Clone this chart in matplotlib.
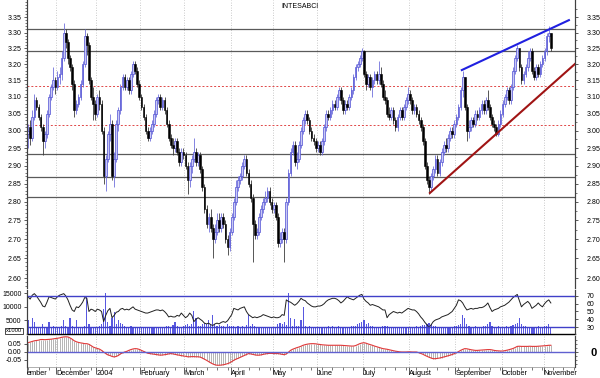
import matplotlib
matplotlib.use("Agg")
import matplotlib.pyplot as plt
import matplotlib.ticker as mticker
import numpy as np

plt.rcParams["font.family"] = ["Liberation Sans", "DejaVu Sans"]

# daily prices in thousandths of a euro, mid Nov 2003 -> early Nov 2004
opens = [
    2990, 3010, 2980, 3040, 3090, 3070, 3040, 3010, 2970, 2990,
    3050, 3100, 3130, 3150, 3130, 3160, 3170, 3220, 3300, 3270,
    3220, 3190, 3140, 3060, 3080, 3100, 3140, 3200, 3290, 3260,
    3150, 3100, 3080, 3050, 3100, 3080, 3000, 2870, 2920, 2990,
    3020, 2870, 2920, 3020, 3060, 3130, 3160, 3130, 3150, 3120,
    3170, 3200, 3180, 3140, 3100, 3070, 3040, 3000, 2980, 3000,
    3020, 3050, 3090, 3100, 3070, 3090, 3060, 3020, 2980, 2960,
    2950, 2970, 2940, 2910, 2940, 2930, 2900, 2860, 2900, 2920,
    2940, 2910, 2930, 2890, 2840, 2780, 2740, 2760, 2730, 2700,
    2720, 2750, 2730, 2760, 2740, 2700, 2680, 2720, 2760, 2800,
    2840, 2860, 2870, 2900, 2920, 2880, 2850, 2810, 2740, 2710,
    2720, 2760, 2780, 2800, 2810, 2830, 2800, 2780, 2790, 2760,
    2690, 2700, 2720, 2700, 2800, 2880, 2940, 2960, 2910, 2920,
    2960, 3000, 3030, 3050, 3030, 3000, 2980, 2970, 2950, 2960,
    2940, 2970, 3010, 3050, 3040, 3060, 3080, 3070, 3100, 3120,
    3090, 3060, 3080, 3070, 3100, 3120, 3160, 3190, 3200, 3220,
    3240, 3170, 3140, 3160, 3130, 3150, 3170, 3150, 3170, 3140,
    3100, 3090, 3050, 3040, 3060, 3030, 3010, 3040, 3060, 3040,
    3070, 3090, 3110, 3090, 3060, 3070, 3050, 3030, 3010, 2970,
    2900, 2860, 2840, 2870, 2890, 2920, 2880, 2910, 2940, 2960,
    2950, 2980, 3000, 2990, 3020, 3040, 3070, 3120, 3160, 3070,
    3000, 3010, 3030, 3020, 3050, 3040, 3060, 3080, 3060, 3090,
    3070, 3040, 3020, 3010, 2990, 3020, 3050, 3080, 3100, 3120,
    3090, 3130, 3180, 3220, 3250, 3190, 3150, 3170, 3190, 3220,
    3240, 3180, 3160, 3190, 3170, 3200, 3220, 3240, 3290, 3300,
]
highs = [
    3020, 3030, 3060, 3110, 3100, 3080, 3050, 3020, 3000, 3060,
    3110, 3140, 3190, 3160, 3180, 3190, 3240, 3330, 3310, 3280,
    3230, 3200, 3150, 3090, 3110, 3150, 3210, 3310, 3300, 3270,
    3160, 3130, 3090, 3110, 3120, 3090, 3010, 2930, 3000, 3050,
    3030, 2940, 3030, 3070, 3140, 3170, 3170, 3160, 3160, 3180,
    3210, 3210, 3190, 3150, 3110, 3080, 3050, 3010, 3010, 3030,
    3060, 3100, 3110, 3110, 3100, 3100, 3070, 3030, 2990, 2980,
    2980, 2980, 2950, 2950, 2950, 2940, 2910, 2910, 2930, 2980,
    2950, 2940, 2940, 2900, 2850, 2790, 2770, 2780, 2740, 2740,
    2770, 2770, 2770, 2770, 2750, 2710, 2730, 2770, 2810, 2860,
    2870, 2880, 2910, 2930, 2930, 2890, 2860, 2820, 2750, 2730,
    2770, 2790, 2810, 2830, 2840, 2840, 2810, 2800, 2800, 2770,
    2720, 2730, 2730, 2810, 2890, 2950, 2970, 2970, 2940, 2970,
    3010, 3040, 3060, 3060, 3040, 3010, 2990, 2980, 2970, 2970,
    2980, 3020, 3060, 3060, 3070, 3090, 3090, 3110, 3130, 3130,
    3100, 3090, 3090, 3110, 3130, 3170, 3200, 3210, 3230, 3250,
    3245, 3180, 3170, 3170, 3160, 3180, 3180, 3210, 3190, 3150,
    3120, 3100, 3070, 3070, 3070, 3040, 3050, 3070, 3070, 3080,
    3100, 3130, 3120, 3100, 3080, 3080, 3060, 3040, 3020, 2980,
    2910, 2870, 2880, 2900, 2930, 2930, 2920, 2950, 2970, 2980,
    2990, 3010, 3010, 3030, 3050, 3080, 3130, 3180, 3160, 3080,
    3030, 3040, 3040, 3060, 3060, 3070, 3090, 3090, 3100, 3120,
    3080, 3050, 3030, 3020, 3030, 3060, 3090, 3110, 3130, 3130,
    3140, 3190, 3230, 3260, 3250, 3200, 3180, 3200, 3240, 3250,
    3250, 3190, 3200, 3200, 3210, 3230, 3250, 3300, 3320, 3300,
]
lows = [
    2950, 2960, 2970, 3030, 3060, 3030, 3000, 2930, 2950, 2980,
    3040, 3090, 3120, 3110, 3120, 3140, 3150, 3210, 3250, 3200,
    3180, 3120, 3040, 3050, 3070, 3090, 3130, 3190, 3230, 3140,
    3090, 3030, 3030, 3040, 3060, 2990, 2850, 2830, 2910, 2970,
    2860, 2840, 2910, 3000, 3050, 3120, 3120, 3120, 3110, 3110,
    3160, 3170, 3130, 3090, 3060, 3030, 2990, 2970, 2970, 2990,
    3010, 3040, 3080, 3060, 3060, 3050, 3010, 2970, 2950, 2930,
    2940, 2930, 2900, 2900, 2920, 2890, 2820, 2840, 2880, 2910,
    2900, 2900, 2880, 2830, 2770, 2730, 2720, 2720, 2650, 2690,
    2710, 2720, 2720, 2730, 2690, 2660, 2670, 2710, 2750, 2790,
    2830, 2850, 2860, 2890, 2870, 2840, 2800, 2640, 2700, 2700,
    2710, 2750, 2770, 2790, 2800, 2790, 2770, 2770, 2750, 2680,
    2680, 2690, 2640, 2690, 2790, 2870, 2930, 2900, 2890, 2910,
    2950, 2990, 3020, 3020, 2990, 2970, 2960, 2940, 2940, 2930,
    2930, 2960, 3000, 3030, 3030, 3050, 3060, 3060, 3090, 3080,
    3050, 3050, 3060, 3060, 3090, 3110, 3150, 3180, 3190, 3210,
    3160, 3120, 3130, 3120, 3100, 3140, 3140, 3140, 3130, 3090,
    3080, 3040, 3030, 3030, 3020, 3000, 3000, 3030, 3030, 3030,
    3060, 3080, 3080, 3050, 3050, 3040, 3020, 3000, 2960, 2890,
    2850, 2820, 2830, 2860, 2880, 2870, 2870, 2900, 2930, 2940,
    2940, 2970, 2980, 2980, 3010, 3030, 3060, 3100, 3060, 2970,
    2980, 3000, 3010, 3010, 3030, 3030, 3050, 3050, 3050, 3060,
    3030, 3010, 3000, 2985, 2985, 3010, 3040, 3070, 3090, 3080,
    3080, 3120, 3170, 3210, 3180, 3140, 3140, 3160, 3180, 3210,
    3170, 3150, 3150, 3160, 3160, 3190, 3210, 3230, 3270, 3240,
]
closes = [
    3000, 2980, 3040, 3090, 3070, 3040, 3010, 2970, 2990, 3050,
    3100, 3130, 3150, 3130, 3160, 3170, 3220, 3300, 3270, 3220,
    3190, 3140, 3060, 3080, 3100, 3140, 3200, 3290, 3260, 3150,
    3100, 3080, 3050, 3100, 3080, 3000, 2870, 2920, 2990, 3020,
    2870, 2920, 3020, 3060, 3130, 3160, 3130, 3150, 3120, 3170,
    3200, 3180, 3140, 3100, 3070, 3040, 3000, 2980, 3000, 3020,
    3050, 3090, 3100, 3070, 3090, 3060, 3020, 2980, 2960, 2950,
    2970, 2940, 2910, 2940, 2930, 2900, 2860, 2900, 2920, 2940,
    2910, 2930, 2890, 2840, 2780, 2740, 2760, 2730, 2700, 2720,
    2750, 2730, 2760, 2740, 2700, 2680, 2720, 2760, 2800, 2840,
    2860, 2870, 2900, 2920, 2880, 2850, 2810, 2740, 2710, 2720,
    2760, 2780, 2800, 2810, 2830, 2800, 2780, 2790, 2760, 2690,
    2700, 2720, 2700, 2800, 2880, 2940, 2960, 2910, 2920, 2960,
    3000, 3030, 3050, 3030, 3000, 2980, 2970, 2950, 2960, 2940,
    2970, 3010, 3050, 3040, 3060, 3080, 3070, 3100, 3120, 3090,
    3060, 3080, 3070, 3100, 3120, 3160, 3190, 3200, 3220, 3240,
    3170, 3140, 3160, 3130, 3150, 3170, 3150, 3170, 3140, 3100,
    3090, 3050, 3040, 3060, 3030, 3010, 3040, 3060, 3040, 3070,
    3090, 3110, 3090, 3060, 3070, 3050, 3030, 3010, 2970, 2900,
    2860, 2840, 2870, 2890, 2920, 2880, 2910, 2940, 2960, 2950,
    2980, 3000, 2990, 3020, 3040, 3070, 3120, 3160, 3070, 3000,
    3010, 3030, 3020, 3050, 3040, 3060, 3080, 3060, 3090, 3070,
    3040, 3020, 3010, 2990, 3020, 3050, 3080, 3100, 3120, 3090,
    3130, 3180, 3220, 3250, 3190, 3150, 3170, 3190, 3220, 3240,
    3180, 3160, 3190, 3170, 3200, 3220, 3240, 3290, 3300, 3250,
]
volumes = [
    5000, 2400, 6000, 4500, 2600, 2200, 2500, 3500, 2300, 2600,
    4500, 2400, 2800, 2200, 2600, 2400, 3000, 5000, 2800, 2500,
    6000, 2800, 2500, 5000, 2300, 2400, 2600, 3000, 14000, 3500,
    2500, 2700, 2400, 2600, 2900, 3500, 9000, 15000, 4500, 3000,
    6000, 8000, 3500, 5000, 4000, 3500, 3000, 2600, 2400, 2800,
    2600, 2500, 2300, 2700, 2400, 2600, 2500, 2300, 2600, 2400,
    2500, 2700, 2300, 2400, 2600, 2500, 2800, 3000, 2600, 3200,
    4500, 3000, 2700, 2600, 3000, 3200, 3800, 2900, 3500, 8400,
    6000, 3000, 2800, 3500, 4000, 3600, 5000, 3200, 7000, 3500,
    3000, 3400, 2800, 3100, 2700, 3500, 3000, 3000, 2800, 2600,
    2800, 2600, 3000, 2700, 3200, 7000, 3000, 3500, 2800, 2600,
    2500, 2400, 2700, 2600, 2400, 2500, 2600, 2300, 2700, 3500,
    4000, 3500, 4500, 3200, 15000, 6000, 3000, 5500, 3000, 2800,
    5000, 10000, 3000, 2600, 2800, 2500, 2700, 2400, 2600, 2500,
    2400, 2700, 2500, 2800, 2600, 3000, 2700, 2500, 2800, 2600,
    2500, 2700, 2400, 2600, 2800, 3000, 2800, 3500, 4000, 4500,
    5000, 3500, 4000, 3000, 2800, 2600, 2500, 2700, 2600, 3000,
    2800, 3000, 2700, 2500, 2600, 2400, 2700, 2500, 2600, 2400,
    2600, 2500, 2700, 2400, 2600, 2800, 2700, 3000, 3200, 3400,
    3500, 4000, 3500, 3000, 2800, 2600, 2700, 2500, 2600, 2400,
    2500, 2700, 2600, 2800, 3000, 3200, 3500, 7000, 6000, 3500,
    3000, 2700, 2500, 2800, 2600, 2700, 2500, 2800, 3000, 3500,
    4500, 3000, 2700, 2600, 2800, 2500, 2700, 2600, 2800, 2700,
    3000, 3200, 3500, 4000, 5800, 3500, 3000, 2800, 2600, 2700,
    2500, 2700, 2600, 2800, 2500, 2700, 2900, 3000, 3500, 2600,
]
rsi = [
    69, 66, 71, 73, 70, 66, 62, 57, 56, 62,
    69, 68, 67, 66, 69, 71, 72, 73, 70, 65,
    58, 52, 50, 56, 55, 58, 62, 68, 67, 50,
    53, 52, 50, 53, 52, 50, 37, 45, 51, 54,
    42, 45, 49, 50, 53, 54, 52, 53, 52, 54,
    56, 53, 52, 51, 50, 49, 48, 48, 49, 50,
    51, 52, 52, 51, 52, 50, 47, 43, 44, 43,
    43, 45, 44, 48, 45, 42, 44, 48, 45, 37,
    40, 42, 40, 38, 35, 34, 35, 33, 32, 34,
    35, 34, 36, 37, 36, 38, 42, 46, 54, 53,
    52, 54, 55, 56, 50, 46, 44, 42, 43, 42,
    43, 44, 46, 45, 44, 43, 42, 43, 42, 42,
    43, 46, 45, 65, 63, 62, 60, 58, 60, 63,
    67, 65, 64, 61, 59, 57, 56, 56, 57, 57,
    58, 60, 63, 65, 66, 67, 67, 66, 64, 61,
    63, 66, 69, 67, 66, 65, 67, 69, 71, 72,
    66, 63, 61, 58, 59, 58, 57, 56, 54, 52,
    52, 42, 46, 48, 50, 49, 48, 49, 48, 50,
    52, 54, 53, 52, 52, 50, 47, 43, 40, 36,
    33, 29, 33, 37, 39, 40, 41, 43, 44, 45,
    46, 48, 50, 54, 58, 65, 64, 61, 56, 52,
    53, 54, 53, 54, 54, 55, 55, 56, 58, 61,
    55, 50, 52, 53, 54, 56, 57, 58, 60, 62,
    65, 68, 70, 72, 64, 56, 59, 61, 63, 60,
    54, 56, 58, 61, 58, 56, 60, 63, 65, 61,
]
# MACD in thousandths
macd = [
    58, 62, 66, 70, 72, 74, 78, 78, 77, 78,
    79, 80, 82, 84, 86, 88, 92, 94, 95, 94,
    88, 80, 70, 64, 60, 57, 55, 52, 52, 48,
    40, 31, 26, 22, 18, 10, 0, -10, -18, -22,
    -28, -31, -28, -22, -12, -6, 0, 4, 10, 15,
    19, 21, 20, 16, 10, 4, -2, -8, -10, -12,
    -14, -16, -18, -20, -19, -17, -15, -12, -10, -12,
    -15, -18, -20, -23, -25, -27, -30, -30, -29, -29,
    -30, -30, -32, -38, -45, -52, -60, -68, -75, -80,
    -83, -83, -82, -80, -77, -73, -68, -60, -52, -45,
    -40, -34, -28, -22, -16, -10, -12, -15, -18, -20,
    -20, -18, -15, -12, -10, -9, -9, -10, -10, -10,
    -12, -15, -17, -12, -2, 10, 17, 22, 27, 31,
    36, 42, 46, 49, 51, 52, 52, 51, 49, 47,
    45, 44, 43, 42, 42, 42, 42, 42, 42, 42,
    41, 40, 39, 38, 37, 37, 40, 46, 52, 56,
    58, 55, 50, 46, 42, 37, 33, 29, 25, 21,
    19, 17, 14, 11, 8, 5, 3, 1, 0, 0,
    0, 1, 1, 0, 0, 0, -4, -9, -14, -21,
    -27, -33, -38, -42, -42, -40, -38, -35, -31, -28,
    -24, -20, -16, -10, -5, 2, 10, 16, 21, 20,
    17, 14, 12, 10, 10, 11, 12, 13, 14, 15,
    15, 13, 10, 8, 7, 6, 6, 8, 11, 14,
    18, 22, 28, 35, 36, 35, 35, 35, 35, 36,
    35, 35, 35, 36, 37, 38, 39, 40, 42, 42,
]

title = "INTESABCI"
month_labels = ["ember", "December", "2004", "February", "March", "April", "May",
                "June", "July", "August", "September", "October", "November"]
month_first_bar = [0, 14, 33, 54, 75, 97, 117, 138, 160, 182, 204, 226, 246]

price_ticks = [2.60, 2.65, 2.70, 2.75, 2.80, 2.85, 2.90, 2.95,
               3.00, 3.05, 3.10, 3.15, 3.20, 3.25, 3.30, 3.35]
solid_levels = [3.311, 3.241, 2.933, 2.868, 2.813]
dotted_levels = [3.133, 3.016]
upper_trend_x = [206.6, 257.6]
upper_trend_y = [3.182, 3.340]
lower_trend_x = [191.4, 260.5]
lower_trend_y = [2.824, 3.201]
vol_ticks = [5000, 10000, 15000]
rsi_ticks = [30, 40, 50, 60, 70]
rsi_bands = [70, 30]
macd_ticks = [-0.05, 0.0, 0.05]

W, H = 600, 378
fig = plt.figure(figsize=(6, 3.78), dpi=100)


def box(l, t, r, b):
    return [l / W, 1 - b / H, (r - l) / W, (b - t) / H]


o = np.array(opens) / 1000
h = np.array(highs) / 1000
lo = np.array(lows) / 1000
c = np.array(closes) / 1000
x = np.arange(len(c))
up = c >= o
dn = ~up
grid_x = [b - 0.5 for b in month_first_bar]
spine_col = "#404040"

# ---- price panel ----
ax = fig.add_axes(box(27, 0, 575, 288))
ax.set_yscale("log")
ax.vlines(x[up], lo[up], h[up], color="#7070dc", lw=0.6, zorder=3)
ax.vlines(x[dn], lo[dn], h[dn], color="#3a3a3a", lw=0.6, zorder=3)
ax.bar(x[up], c[up] - o[up], bottom=o[up], width=0.8, color="#c8c8f4",
       edgecolor="#5050d4", linewidth=0.5, zorder=4)
ax.bar(x[dn], o[dn] - c[dn], bottom=c[dn], width=0.8, color="black",
       edgecolor="black", linewidth=0.4, zorder=4)
for lvl in solid_levels:
    ax.axhline(lvl, color="#5a5a5a", lw=0.9, zorder=2)
for lvl in dotted_levels:
    ax.axhline(lvl, color="#e04848", lw=0.7, ls=(0, (2, 2)), zorder=2)
ax.plot(upper_trend_x, upper_trend_y, color="#2020e0", lw=1.5, zorder=5)
ax.plot(lower_trend_x, lower_trend_y, color="#a01414", lw=1.5, zorder=5)
ax.set_xlim(-0.5, 260.5)
ax.set_ylim(2.575, 3.406)
ax.yaxis.set_major_locator(mticker.FixedLocator(price_ticks))
ax.yaxis.set_major_formatter(mticker.FixedFormatter([f"{p:.2f}" for p in price_ticks]))
ax.yaxis.set_minor_locator(mticker.FixedLocator(np.arange(2.58, 3.405, 0.01)))
ax.yaxis.set_minor_formatter(mticker.NullFormatter())
ax.tick_params(axis="y", which="major", labelsize=5, length=2.5, width=0.6, pad=1.5, colors=spine_col, labelcolor="black")
ax.tick_params(axis="y", which="minor", length=1.2, width=0.5, colors=spine_col)
ax.tick_params(axis="x", bottom=False, labelbottom=False)

axr = ax.twinx()
axr.set_yscale("log")
axr.set_ylim(ax.get_ylim())
axr.yaxis.set_major_locator(mticker.FixedLocator(price_ticks))
axr.yaxis.set_major_formatter(mticker.FixedFormatter([f"{p:.2f}" for p in price_ticks]))
axr.yaxis.set_minor_locator(mticker.FixedLocator([p + 0.025 for p in price_ticks]))
axr.yaxis.set_minor_formatter(mticker.NullFormatter())
axr.tick_params(axis="y", which="major", labelsize=5, length=2.5, width=0.6, pad=6, colors=spine_col, labelcolor="black")
axr.tick_params(axis="y", which="minor", length=1.5, width=0.5, colors=spine_col)

# ---- volume / RSI panel ----
axv = fig.add_axes(box(27, 290, 575, 334))
axv.bar(x, volumes, width=0.55, color="#5858e0", lw=0)
axv.set_xlim(-0.5, 260.5)
axv.set_ylim(0, 16100)
axv.set_yticks(vol_ticks)
axv.set_yticklabels([str(v) for v in vol_ticks])
axv.tick_params(axis="y", labelsize=5, length=2.5, width=0.6, pad=1.5, colors=spine_col, labelcolor="black")
axv.tick_params(axis="x", bottom=False, labelbottom=False)

axrsi = axv.twinx()
axrsi.plot(x, rsi, color="#202020", lw=0.7)
for lvl in rsi_bands:
    axrsi.axhline(lvl, color="#4040c8", lw=1.0)
axrsi.set_ylim(21.0, 77.7)
axrsi.set_yticks(rsi_ticks)
axrsi.set_yticklabels([str(v) for v in rsi_ticks])
axrsi.tick_params(axis="y", labelsize=5, length=2.5, width=0.6, pad=6, colors=spine_col, labelcolor="black")

# ---- MACD panel ----
m = np.array(macd) / 1000
axm = fig.add_axes(box(27, 336, 575, 367))
axm.vlines(x, 0, m, color="#a8a8a8", lw=0.6)
axm.plot(x, m, color="#e03838", lw=0.8)
axm.axhline(0, color="#6060d0", lw=1.0)
axm.set_xlim(-0.5, 260.5)
axm.set_ylim(-0.094, 0.1)
axm.set_yticks(macd_ticks)
axm.set_yticklabels([f"{v:.2f}" for v in macd_ticks])
axm.tick_params(axis="y", labelsize=5, length=2.5, width=0.6, pad=1.5, colors=spine_col, labelcolor="black")
axm.set_xticks(grid_x)
axm.set_xticklabels(month_labels, ha="left")
axm.xaxis.set_minor_locator(mticker.MultipleLocator(5))
axm.tick_params(axis="x", which="major", labelsize=5.3, length=5, width=0.6, pad=-3, colors=spine_col, labelcolor="black")
axm.tick_params(axis="x", which="minor", length=2, width=0.5, colors=spine_col)

axm2 = axm.twinx()
axm2.set_ylim(axm.get_ylim())
axm2.set_yticks([0])
axm2.set_yticklabels(["0"], fontsize=8, fontweight="bold")
axm2.yaxis.set_minor_locator(mticker.FixedLocator([-0.075, -0.05, -0.025, 0.025, 0.05, 0.075]))
axm2.tick_params(axis="y", which="major", length=2.5, width=0.6, pad=8.5, colors=spine_col, labelcolor="black")
axm2.tick_params(axis="y", which="minor", length=1.5, width=0.5, colors=spine_col)

# spines and month grid
for a in (ax, axr, axv, axrsi, axm, axm2):
    for side in ("left", "right"):
        a.spines[side].set_color(spine_col)
        a.spines[side].set_linewidth(0.8)
    a.spines["top"].set_visible(False)
    a.spines["bottom"].set_visible(False)
axv.spines["bottom"].set_visible(True)
axv.spines["bottom"].set_color("black")
axv.spines["bottom"].set_linewidth(1.0)
axm.spines["bottom"].set_visible(True)
axm.spines["bottom"].set_color("#909090")
axm.spines["bottom"].set_linewidth(0.5)

for a in (ax, axv, axm):
    for g in grid_x[1:]:
        a.axvline(g, color="#b8b8b8", lw=0.6, ls=(0, (1, 2)), zorder=0)

fig.text(300 / W, 1 - 6 / H, title, fontsize=5, ha="center", va="center")
fig.text(14 / W, 1 - 331 / H, "x1000", fontsize=4.2, ha="center", va="center",
         bbox=dict(boxstyle="square,pad=0.15", fc="white", ec="black", lw=0.5))

fig.savefig("out.png", dpi=100)
